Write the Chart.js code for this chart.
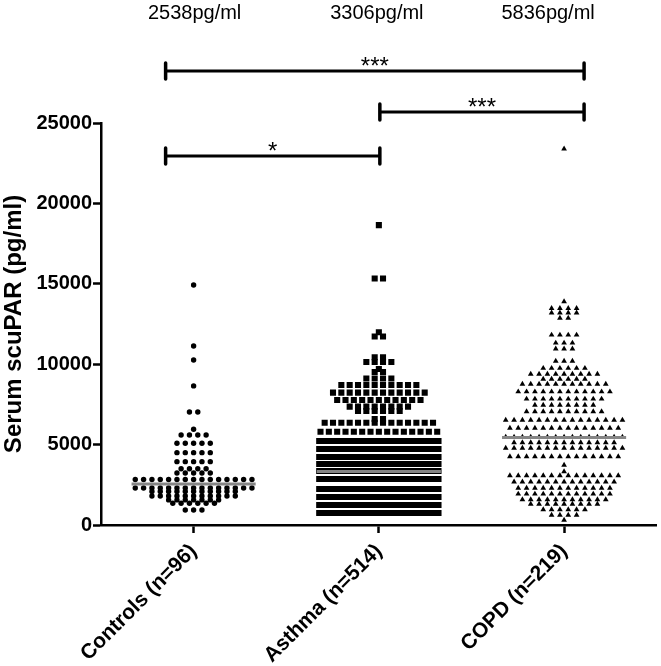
<!DOCTYPE html>
<html>
<head>
<meta charset="utf-8">
<script src="https://cdn.jsdelivr.net/npm/chart.js@4"></script>
<style>
  html, body { margin: 0; padding: 0; background: #fff; }
  #wrap { width: 661px; height: 666px; }
</style>
</head>
<body>
<div id="wrap"><canvas id="chart"></canvas></div>
<script>
// グループ
const groups = ["Controls", "Asthma", "COPD"];
const groupN = [96, 514, 219];
// 上に書かれた中央値
const medians = [2538, 3306, 5836];
// 灰色の線の高さ（図から読んだ値）
const medianLines = [2550, 3330, 5440];

// 有意差の組と記号
const pairFrom = [0, 1, 0];
const pairTo = [2, 2, 1];
const pairStars = ["***", "***", "*"];

// 各行の値と、その行に並ぶ点の数
const controlsValues = [14930, 11130, 10260, 8650, 7030, 5950, 5600, 5080, 4500, 3940, 3500, 3230, 2830, 2300, 2080, 1800, 1560, 1350, 930];
const controlsCounts = [1, 1, 1, 1, 2, 1, 4, 5, 5, 5, 4, 5, 15, 15, 11, 11, 7, 6, 3];

const asthmaValues = [18650, 15330, 11990, 11720, 10430, 10140, 9700, 9520, 9110, 8710, 8230, 7770, 7360, 7090, 6590, 6360, 5800,
  5225, 4727, 4230, 3794, 3359, 2861, 2239, 1742, 1244, 746];
const asthmaCounts = [1, 2, 1, 2, 2, 4, 1, 2, 4, 10, 12, 11, 8, 6, 2, 14, 15,
  44, 44, 44, 44, 44, 44, 44, 42, 40, 27];

const copdValues = [23400, 13890, 13480, 13190, 12870, 11820, 11320, 10950, 10200, 9750, 9390, 9070, 8770, 8290, 7840, 7460, 7050,
  6530, 6030, 5470, 5120, 4790, 4250, 3730, 3320, 3070, 2690, 2300, 1930, 1580, 1300, 960, 620, 310];
const copdCounts = [1, 1, 4, 4, 2, 4, 3, 3, 3, 6, 9, 6, 11, 12, 10, 8, 10,
  15, 14, 15, 13, 15, 14, 1, 1, 14, 13, 12, 12, 11, 9, 6, 4, 1];

// 点の並べ方（カテゴリ単位）
const DOT_GAP = 0.045;
const MAX_HALF = 0.322;
const LINE_HALF = 0.335;

function swarm(values, counts, center) {
  const pts = [];
  values.forEach((v, r) => {
    const n = counts[r];
    const gap = n > 1 ? Math.min(DOT_GAP, (2 * MAX_HALF) / (n - 1)) : 0;
    for (let j = 0; j < n; j++) {
      pts.push({ x: center + (j - (n - 1) / 2) * gap, y: v });
    }
  });
  return pts;
}

const FONT = '"Liberation Sans", Arial, sans-serif';

// 中央値の線
const medianSets = medianLines.map((m, i) => ({
  type: "line",
  data: [{ x: i - LINE_HALF, y: m }, { x: i + LINE_HALF, y: m }],
  borderColor: "#858585",
  borderWidth: 3,
  pointRadius: 0,
  order: 0,
}));

const dotSets = [
  { data: swarm(controlsValues, controlsCounts, 0), pointStyle: "circle", pointRadius: 2.7 },
  { data: swarm(asthmaValues, asthmaCounts, 1), pointStyle: "rect", pointRadius: 4.3 },
  { data: swarm(copdValues, copdCounts, 2), pointStyle: "triangle", pointRadius: 3.3 },
].map((d) => ({
  ...d,
  type: "scatter",
  backgroundColor: "#000",
  borderWidth: 0,
  order: 1,
}));

// 括弧と上の文字
const labelShift = [1, -2, -16];
const endShift = [-28, 1, 20];
const bracketLevels = [28230, 25680, 22950];

const annotate = {
  id: "annotate",
  afterDraw(chart) {
    const { ctx, scales: { x, y } } = chart;
    ctx.save();
    ctx.fillStyle = "#000";
    ctx.strokeStyle = "#000";
    ctx.textAlign = "center";
    ctx.textBaseline = "middle";
    ctx.font = "20px " + FONT;
    medians.forEach((m, i) => {
      ctx.fillText(`${m}pg/ml`, x.getPixelForValue(i) + labelShift[i], 13);
    });

    pairFrom.forEach((a, k) => {
      const b = pairTo[k];
      const x1 = x.getPixelForValue(a) + endShift[a];
      const x2 = x.getPixelForValue(b) + endShift[b];
      const yy = y.getPixelForValue(bracketLevels[k]);
      ctx.lineWidth = 3;
      ctx.lineCap = "butt";
      ctx.beginPath();
      ctx.moveTo(x1, yy);
      ctx.lineTo(x2, yy);
      ctx.stroke();
      ctx.lineWidth = 3.5;
      ctx.lineCap = "round";
      ctx.beginPath();
      ctx.moveTo(x1, yy - 8);
      ctx.lineTo(x1, yy + 8);
      ctx.moveTo(x2, yy - 8);
      ctx.lineTo(x2, yy + 8);
      ctx.stroke();
      ctx.font = "24px " + FONT;
      ctx.textBaseline = "alphabetic";
      ctx.fillText(pairStars[k], (x1 + x2) / 2, yy + 3);
    });
    ctx.restore();
  },
};

new Chart(document.getElementById("chart"), {
  data: { datasets: [...medianSets, ...dotSets] },
  plugins: [annotate],
  options: {
    responsive: true,
    maintainAspectRatio: false,
    animation: false,
    layout: { padding: { top: 123, right: 0, left: 0, bottom: 0 } },
    plugins: { legend: { display: false }, tooltip: { enabled: false } },
    scales: {
      x: {
        type: "linear",
        min: -0.5,
        max: 2.5,
        afterBuildTicks: (s) => { s.ticks = groups.map((_, i) => ({ value: i })); },
        afterFit: (s) => { s.height = 141; },
        grid: { drawOnChartArea: false, tickLength: 8, tickWidth: 2.5, tickColor: "#000" },
        border: { color: "#000", width: 2.5 },
        ticks: {
          autoSkip: false,
          minRotation: 45,
          maxRotation: 45,
          padding: 6,
          color: "#000",
          font: { family: FONT, size: 21, weight: "bold" },
          callback: (v) => `${groups[v]} (n=${groupN[v]})`,
        },
      },
      y: {
        min: 0,
        max: 25000,
        afterFit: (s) => { s.width = 101; },
        grid: { drawOnChartArea: false, tickLength: 8, tickWidth: 2.5, tickColor: "#000" },
        border: { color: "#000", width: 2.5 },
        ticks: {
          stepSize: 5000,
          padding: 1,
          color: "#000",
          font: { family: FONT, size: 20, weight: "bold" },
          callback: (v) => String(v),
        },
        title: {
          display: true,
          text: "Serum scuPAR (pg/ml)",
          color: "#000",
          font: { family: FONT, size: 24, weight: "bold" },
          padding: { top: 0, bottom: 0 },
        },
      },
    },
  },
});
</script>
</body>
</html>
